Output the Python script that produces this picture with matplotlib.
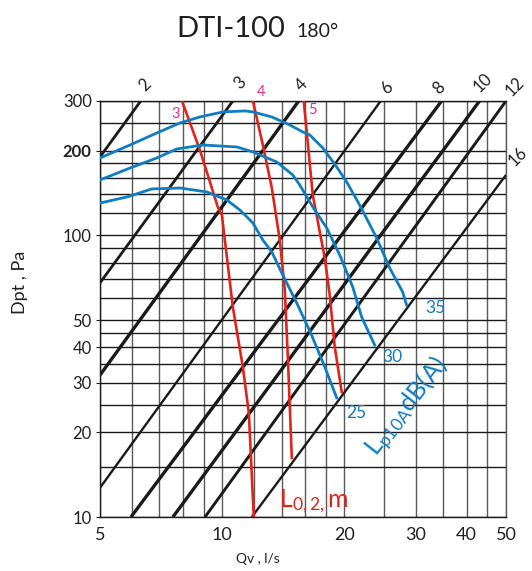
import numpy as np
import matplotlib.pyplot as plt

plt.rcParams['font.family'] = ['Lato', 'DejaVu Sans']
plt.rcParams['mathtext.default'] = 'regular'

# ---------------- grid / ticks ----------------
x_grid = [5, 6, 7, 8, 9, 10, 12, 14, 16, 18, 20, 25, 30, 35, 40, 45, 50]
y_grid = [10, 15, 20, 25, 30, 35, 40, 45, 50, 60, 70, 80, 90, 100,
          120, 140, 160, 180, 200, 250, 300]
x_ticks = [5, 10, 20, 30, 40, 50]
y_ticks = [10, 20, 30, 40, 50, 100, 200, 300]

# ---------------- black lines (Dp ~ Qv^2), end points ----------------
lin_lbl = ['2', '3', '4', '6', '8', '10', '12', '16']
lin_q = [(5, 6.30), (5, 10.62), (5, 15.43), (5, 24.56),
         (5.96, 34.70), (7.56, 43.03), (9.07, 50), (11.83, 50)]
lin_p = [(189.9, 300), (67.8, 300), (31.9, 300), (12.7, 300),
         (10, 300), (10, 300), (10, 300), (10, 163.9)]
lin_lw = [2.0, 2.0, 2.4, 1.7, 2.4, 2.4, 2.1, 1.7]
lin_off = [(4, 16), (7, 18), (3, 16), (6, 13), (-2, 13), (3, 18), (9, 14), (12, 18)]

# ---------------- red curves L0,2 (m) ----------------
red_lbl = ['3', '4', '5']
red_q = [[7.96, 8.81, 9.75, 9.98, 10.15, 10.62, 11.24, 11.63, 11.96],
         [11.90, 12.59, 13.25, 13.86, 14.26, 14.51, 14.84],
         [15.88, 16.71, 17.89, 18.40, 18.93, 19.69]]
red_p = [[300, 201.1, 126.2, 118.2, 96.3, 55.7, 34.1, 23.4, 10],
         [300, 209.4, 147.3, 96.3, 64.0, 37.0, 16.2],
         [300, 139.2, 83.1, 61.4, 40.2, 27.8]]
red_off = [(-6, -13), (8, 9), (9, -9)]

# ---------------- blue curves Lp10A dB(A) ----------------
blue_lbl = ['35', '30', '25']
blue_q = [[5, 5.93, 6.90, 7.87, 8.81, 10.04, 11.37, 11.90, 13.25, 14.67, 15.79,
           16.43, 17.69, 19.14, 20.26, 21.80, 24.01, 25.85, 27.82, 28.45],
          [5, 5.93, 6.90, 7.73, 8.96, 10.87, 11.90, 13.62, 14.92, 15.52,
           16.71, 18.09, 19.47, 20.96, 22.05, 23.74],
          [5, 5.83, 6.71, 7.87, 9.17, 10.26, 11.05, 11.90, 12.59, 13.25,
           14.02, 15.26, 16.52, 17.89, 19.14]]
blue_p = [[188.3, 209.4, 231.0, 250.7, 263.3, 274.4, 276.6, 274.4, 263.3, 246.6, 232.9,
           227.3, 204.4, 175.0, 154.7, 128.2, 97.9, 76.6, 63.0, 56.6],
          [157.3, 173.5, 188.3, 202.7, 209.4, 206.0, 197.8, 182.3, 163.9, 151.0,
           126.2, 106.2, 85.2, 65.6, 51.3, 40.8],
          [130.3, 136.9, 146.2, 147.3, 142.6, 133.6, 123.1, 110.7, 96.3, 87.3,
           73.5, 57.5, 45.0, 34.1, 26.5]]
blue_off = [(29, -3), (18, -12), (20, -15)]

c_red = '#e2231a'
c_pink = '#e8308a'
c_blue = '#0f7dc2'
c_txt = '#231f20'

fig = plt.figure(figsize=(5.32, 5.71), dpi=100)
ax = fig.add_axes([100/532, 1 - 517/571, 406/532, 416/571])
ax.set_xscale('log')
ax.set_yscale('log')
ax.set_xlim(5, 50)
ax.set_ylim(10, 300)

ax.set_xticks(x_ticks)
ax.set_xticklabels([str(v) for v in x_ticks])
ax.set_xticks([v for v in x_grid if v not in x_ticks], minor=True)
ax.set_xticklabels([], minor=True)
ax.set_yticks(y_ticks)
ax.set_yticklabels([str(v) for v in y_ticks])
ax.set_yticks([v for v in y_grid if v not in y_ticks], minor=True)
ax.set_yticklabels([], minor=True)
for t in ax.get_yticklabels():
    if t.get_text() == '200':
        t.set_fontweight('bold')

ax.xaxis.grid(True, which='both', color='#5a5a5a', lw=1.0)
ax.yaxis.grid(True, which='both', color='#1a1a1a', lw=1.0)
ax.tick_params(axis='x', which='both', length=0, labelsize=13, pad=7, colors=c_txt)
ax.tick_params(axis='y', which='major', length=3, labelsize=12, pad=3, colors=c_txt)
ax.tick_params(axis='y', which='minor', length=0)
for s in ax.spines.values():
    s.set_color('#1a1a1a')
    s.set_linewidth(1.0)
ax.spines['right'].set_color('#5a5a5a')

# black lines
for lbl, q, p, lw, off in zip(lin_lbl, lin_q, lin_p, lin_lw, lin_off):
    ax.plot(q, p, color='#1a1a1a', lw=lw, solid_capstyle='butt', zorder=3)
    ax.annotate(lbl, (q[1], p[1]), xytext=off, textcoords='offset pixels',
                ha='center', va='center', rotation=45, fontsize=12,
                color=c_txt, annotation_clip=False)

# red curves
for lbl, q, p, off in zip(red_lbl, red_q, red_p, red_off):
    ax.plot(q, p, color=c_red, lw=1.9, zorder=4)
    ax.annotate(lbl, (q[0], p[0]), xytext=off, textcoords='offset pixels',
                ha='center', va='center', fontsize=10.5, color=c_pink,
                annotation_clip=False)

# blue curves
for lbl, q, p, off in zip(blue_lbl, blue_q, blue_p, blue_off):
    ax.plot(q, p, color=c_blue, lw=2.0, zorder=5)
    ax.annotate(lbl, (q[-1], p[-1]), xytext=off, textcoords='offset pixels',
                ha='center', va='center', fontsize=12.5, color=c_blue,
                annotation_clip=False)

fig.text(279/532, 1 - 507/571, r'L$_{0,2,}$m', color=c_red, fontsize=18,
         ha='left', va='baseline')
fig.text(377/532, 1 - 458/571, r'L$_{p10A}$dB(A)', color=c_blue, fontsize=18,
         ha='left', va='baseline', rotation=52, rotation_mode='anchor')

fig.text(176/532, 1 - 37/571, 'DTI-100', fontsize=21, color=c_txt,
         ha='left', va='baseline')
fig.text(296/532, 1 - 37/571, '180°', fontsize=14, color=c_txt,
         ha='left', va='baseline')
fig.text(20/532, 1 - 282/571, 'Dpt , Pa', rotation=90, fontsize=13,
         color=c_txt, ha='center', va='center')
fig.text(258/532, 1 - 563/571, 'Qv , l/s', fontsize=10, color=c_txt,
         ha='center', va='baseline')

plt.savefig('out.png', dpi=100)
